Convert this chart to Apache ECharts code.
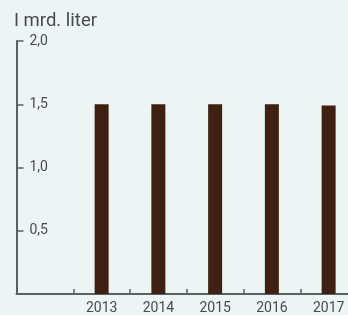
<!DOCTYPE html>
<html><head><meta charset="utf-8">
<script src="https://cdn.jsdelivr.net/npm/echarts@6/dist/echarts.min.js"></script>
<style>html,body{margin:0;padding:0;background:#ecf5f3;overflow:hidden;width:348px;height:315px;}#c{width:360px;height:315px;}</style>
</head><body><div id="c"></div>
<script>
const categories = ['', '2013', '2014', '2015', '2016', '2017'];
const values = [null, 1.50, 1.50, 1.50, 1.50, 1.49];
const yTicks = [0, 0.5, 1.0, 1.5, 2.0];
const titleText = 'I mrd. liter';

const chart = echarts.init(document.getElementById('c'), null, {renderer: 'canvas'});
chart.setOption({
  backgroundColor: '#ecf5f3',
  animation: false,
  textStyle: {fontFamily: 'Roboto'},
  title: {text: titleText, left: 9, top: 7,
    textStyle: {fontSize: 18.5, fontWeight: 'normal', color: '#4a4a4a', fontFamily: 'Roboto'}},
  grid: {left: 16.5, width: 340.5, top: 41, bottom: 18.5, containLabel: false},
  xAxis: {
    type: 'category', data: categories,
    axisLine: {lineStyle: {color: '#586060', width: 2}},
    axisTick: {show: true, inside: true, length: 5, alignWithLabel: false, lineStyle: {color: '#586060', width: 1.5}},
    axisLabel: {color: '#4a4a4a', fontSize: 14, margin: 7, interval: 0, fontFamily: 'Roboto'}
  },
  yAxis: {
    type: 'value', min: yTicks[0], max: yTicks[yTicks.length - 1], interval: 0.5,
    axisLine: {show: true, lineStyle: {color: '#586060', width: 2}},
    axisTick: {show: true, inside: true, length: 7, lineStyle: {color: '#586060', width: 1.5}},
    splitLine: {show: false},
    axisLabel: {inside: true, margin: 13, color: '#4a4a4a', fontSize: 14, showMinLabel: false,
      fontFamily: 'Roboto',
      formatter: v => v.toFixed(1).replace('.', ',')}
  },
  series: [{type: 'bar', data: values, barWidth: 14, itemStyle: {color: '#3e2112'}}]
});
</script></body></html>
